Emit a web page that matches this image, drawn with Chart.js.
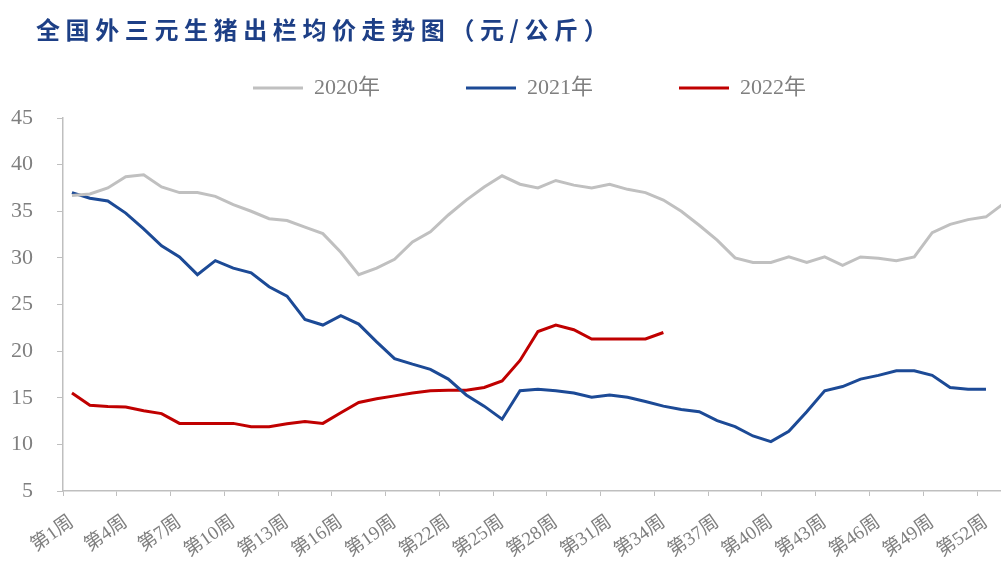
<!DOCTYPE html>
<html>
<head>
<meta charset="utf-8">
<script src="https://cdn.jsdelivr.net/npm/chart.js@4.4.1/dist/chart.umd.min.js"></script>
<style>
  html, body { margin: 0; padding: 0; overflow: hidden; background: #fff; }
</style>
</head>
<body>
<canvas id="hog-price" width="1032" height="565"></canvas>
<script>
const TITLE = "全国外三元生猪出栏均价走势图（元/公斤）";

// 第1周 ... 第53周
const weeks = Array.from({ length: 53 }, (_, i) => "第" + (i + 1) + "周");

const seriesNames = ["2020年", "2021年", "2022年"];

const price2020 = [
	36.7, 36.85, 37.5, 38.7, 38.9, 37.6, 37.0, 37.0, 36.6, 35.7,
	35.0, 34.2, 34.0, 33.3, 32.6, 30.6, 28.2, 28.9, 29.85, 31.7,
	32.8, 34.6, 36.2, 37.6, 38.8, 37.9, 37.5, 38.3, 37.8, 37.5,
	37.9, 37.35, 37.0, 36.2, 35.0, 33.5, 31.9, 30.0, 29.5, 29.5,
	30.1, 29.5, 30.1, 29.2, 30.1, 29.95, 29.7, 30.1, 32.7, 33.6,
	34.1, 34.4, 35.85,
];

const price2021 = [
	37.0, 36.4, 36.1, 34.8, 33.1, 31.3, 30.1, 28.2, 29.7, 28.9,
	28.4, 26.9, 25.9, 23.4, 22.8, 23.8, 22.9, 21.0, 19.2, 18.6,
	18.05, 17.0, 15.3, 14.1, 12.7, 15.75, 15.9, 15.75, 15.5, 15.05,
	15.3, 15.05, 14.6, 14.1, 13.75, 13.5, 12.55, 11.9, 10.9, 10.3,
	11.4, 13.5, 15.75, 16.2, 17.0, 17.4, 17.9, 17.9, 17.4, 16.1,
	15.9, 15.9,
];

const price2022 = [
	15.5, 14.2, 14.05, 14.0, 13.6, 13.3, 12.25, 12.25, 12.25, 12.25,
	11.9, 11.9, 12.2, 12.45, 12.25, 13.4, 14.5, 14.9, 15.2, 15.5,
	15.75, 15.8, 15.8, 16.1, 16.8, 19.0, 22.1, 22.8, 22.3, 21.3,
	21.3, 21.3, 21.3, 22.0,
];

const seriesColors = ["#c0c0c0", "#1c4a96", "#c00000"];
const serif = "'Liberation Serif', 'Noto Sans CJK SC', serif";
const axisGray = "#bfbfbf";
const labelGray = "#7f7f7f";

// title is drawn by hand so it can get the wide letter spacing of the original
const titlePlugin = {
	id: "chartTitle",
	afterDraw(chart) {
		const ctx = chart.ctx;
		ctx.save();
		ctx.font = "bold 24px 'Noto Sans CJK SC'";
		ctx.letterSpacing = "5.6px";
		ctx.fillStyle = "#1d3f86";
		ctx.textBaseline = "middle";
		ctx.textAlign = "left";
		ctx.fillText(TITLE, 36, 30);
		ctx.restore();
	},
};

const makeDataset = (idx, values) => ({
	label: seriesNames[idx],
	data: values,
	borderColor: seriesColors[idx],
	backgroundColor: seriesColors[idx],
	borderWidth: 3,
	pointRadius: 0,
	tension: 0,
	fill: false,
});

let ctx = document.getElementById("hog-price").getContext("2d");

new Chart(ctx, {
	type: "line",
	data: {
		labels: weeks,
		datasets: [
			makeDataset(0, price2020),
			makeDataset(1, price2021),
			makeDataset(2, price2022),
		],
	},
	options: {
		responsive: false,
		animation: false,
		layout: {
			padding: { top: -9, left: 30, right: 3, bottom: 0 },
		},
		plugins: {
			legend: {
				position: "top",
				labels: {
					usePointStyle: true,
					pointStyleWidth: 50,
					pointStyle: "line",
					padding: 86,
					color: labelGray,
					font: { family: serif, size: 22 },
				},
			},
			// empty spacer between legend and plot
			subtitle: {
				display: true,
				text: "",
				weight: 500,
				padding: 0,
				font: { size: 7.5 },
			},
			tooltip: { enabled: false },
		},
		scales: {
			x: {
				offset: true,
				grid: {
					offset: true,
					drawOnChartArea: false,
					tickLength: 5,
					color: (c) => (c.index % 3 === 0 ? axisGray : "rgba(0,0,0,0)"),
				},
				border: { color: axisGray, width: 1.5 },
				ticks: {
					autoSkip: false,
					minRotation: 35,
					maxRotation: 35,
					padding: 15,
					color: labelGray,
					font: { family: serif, size: 19 },
					callback: function (val, i) {
						return i % 3 === 0 ? this.getLabelForValue(val) : "";
					},
				},
				afterFit: (scale) => {
					scale.height = 74;
				},
			},
			y: {
				min: 5,
				max: 45,
				ticks: {
					stepSize: 5,
					// mirrored + negative padding puts the labels back left of the
					// axis, right-aligned, without the scale clipping them
					mirror: true,
					crossAlign: "far",
					padding: -52,
					color: labelGray,
					font: { family: serif, size: 22 },
				},
				grid: {
					drawOnChartArea: false,
					tickLength: 6,
					color: axisGray,
				},
				border: { color: axisGray, width: 1.5 },
				afterFit: (scale) => {
					scale.width = 33;
				},
			},
		},
	},
	plugins: [titlePlugin],
});
</script>
</body>
</html>
